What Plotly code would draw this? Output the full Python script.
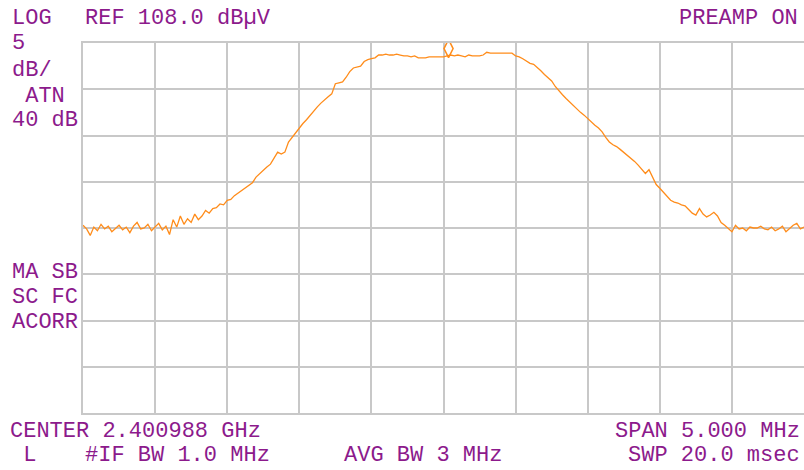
import numpy as np
import plotly.graph_objects as go

# Instrument settings
center_ghz = 2.400988
span_mhz = 5.0
ref_level = 108.0      # dBuV
db_per_div = 5.0
n_points = 201

# Frequency offsets from center (MHz), uniform sweep
freq_offset = np.linspace(-span_mhz / 2, span_mhz / 2, n_points)

# Trace amplitude (dBuV)
level_db = [
    88.3, 87.9, 87.2, 88.1, 87.7, 88.4, 87.9, 88.2, 87.6, 88.0,
    88.3, 87.8, 88.1, 87.5, 88.2, 88.6, 87.9, 88.0, 88.4, 87.7,
    88.1, 88.5, 87.8, 88.2, 87.3, 88.9, 88.1, 89.3, 88.4, 89.0,
    88.6, 89.5, 88.9, 89.3, 89.9, 89.6, 90.1, 90.2, 90.6, 90.5,
    91.0, 91.1, 91.5, 91.8, 92.1, 92.4, 92.7, 92.9, 93.5, 93.9,
    94.2, 94.6, 94.9, 95.6, 96.2, 96.0, 96.2, 97.3, 97.8, 98.4,
    98.8, 99.3, 99.7, 100.2, 100.7, 101.1, 101.5, 101.9, 102.2, 102.5,
    103.6, 103.7, 103.8, 104.3, 104.9, 105.3, 105.4, 105.5, 106.0, 106.2,
    106.3, 106.4, 106.7, 106.7, 106.8, 106.7, 106.7, 106.8, 106.7, 106.6,
    106.6, 106.5, 106.6, 106.4, 106.4, 106.4, 106.5, 106.5, 106.5, 106.5,
    106.5, 106.6, 106.7, 106.6, 106.7, 106.6, 106.5, 106.7, 106.6, 106.6,
    106.6, 106.7, 107.0, 106.9, 106.9, 106.9, 106.9, 106.9, 106.9, 106.9,
    106.6, 106.5, 106.3, 106.0, 105.8, 105.7, 105.4, 105.0, 104.6, 104.3,
    103.9, 103.3, 102.8, 102.4, 102.0, 101.6, 101.2, 100.9, 100.5, 100.2,
    99.8, 99.5, 99.1, 98.8, 98.4, 97.8, 97.3, 97.0, 96.8, 96.5,
    96.2, 95.9, 95.6, 95.2, 94.8, 94.3, 93.9, 94.3, 93.4, 92.7,
    92.3, 91.9, 91.4, 91.0, 90.8, 90.7, 90.5, 90.4, 90.0, 89.6,
    89.4, 90.1, 89.5, 89.2, 89.4, 89.7, 89.3, 88.6, 88.3, 87.9,
    87.6, 88.3, 87.9, 88.0, 87.7, 88.1, 88.0, 88.0, 88.2, 87.9,
    87.8, 88.1, 87.7, 87.9, 88.2, 87.6, 88.0, 88.3, 88.5, 87.9, 88.1,
]

# Marker
marker_offset = [0.035]
marker_level = [107.4]

TRACE = "#ff8c1a"
TXT = "#8c1a8c"
GRID = "#c8c8c8"
FONT = "Liberation Mono"

fig = go.Figure()
fig.add_trace(go.Scatter(x=freq_offset, y=level_db, mode="lines",
                         line=dict(color=TRACE, width=1.3), hoverinfo="skip"))
fig.add_trace(go.Scatter(x=marker_offset, y=marker_level, mode="markers",
                         marker=dict(symbol="diamond-tall-open", size=13,
                                     color=TRACE, line=dict(color=TRACE, width=1.5)),
                         hoverinfo="skip"))

W, H = 804, 470
L, T, R, B = 83, 43, 0, 57
pw, ph = W - L - R, H - T - B

def px(x):
    return (x - L) / pw

def py(y):
    return (H - B - y) / ph

labels = [
    ("LOG", 11, 18, "left"),
    ("REF 108.0 dBµV", 84, 18, "left"),
    ("PREAMP ON", 799, 18, "right"),
    ("5", 11, 44, "left"),
    ("dB/", 11, 70, "left"),
    (" ATN", 11, 96, "left"),
    ("40 dB", 11, 121, "left"),
    ("MA SB", 11, 272, "left"),
    ("SC FC", 11, 297, "left"),
    ("ACORR", 11, 322, "left"),
    ("CENTER 2.400988 GHz", 9, 431, "left"),
    ("SPAN 5.000 MHz", 801, 431, "right"),
    (" L", 9, 455, "left"),
    ("#IF BW 1.0 MHz", 84, 455, "left"),
    ("AVG BW 3 MHz", 343, 455, "left"),
    ("SWP 20.0 msec", 801, 455, "right"),
]
for text, x, y, anchor in labels:
    fig.add_annotation(text=text, x=px(x), y=py(y), xref="paper", yref="paper",
                       xanchor=anchor, yanchor="middle", showarrow=False,
                       borderpad=0,
                       font=dict(family=FONT, size=22, color=TXT))

fig.update_layout(
    width=W, height=H,
    margin=dict(l=L, r=R, t=T, b=B),
    paper_bgcolor="white", plot_bgcolor="white",
    showlegend=False,
)
fig.update_xaxes(range=[-span_mhz / 2, span_mhz / 2], dtick=0.5, tick0=-2.5,
                 showgrid=True, gridcolor=GRID, gridwidth=2,
                 showline=True, linecolor=GRID, linewidth=2, mirror=True,
                 showticklabels=False, ticks="", zeroline=False)
fig.update_yaxes(range=[ref_level - 8 * db_per_div, ref_level], dtick=db_per_div,
                 tick0=ref_level, showgrid=True, gridcolor=GRID, gridwidth=2,
                 showline=True, linecolor=GRID, linewidth=2, mirror=False,
                 showticklabels=False, ticks="", zeroline=False)

# Remove the browser's default body margin so the 804x470 figure fills the window
fig.write_html("out.html",
               config={"displayModeBar": False, "staticPlot": True},
               post_script="document.body.style.margin='0';document.body.style.overflow='hidden';")
